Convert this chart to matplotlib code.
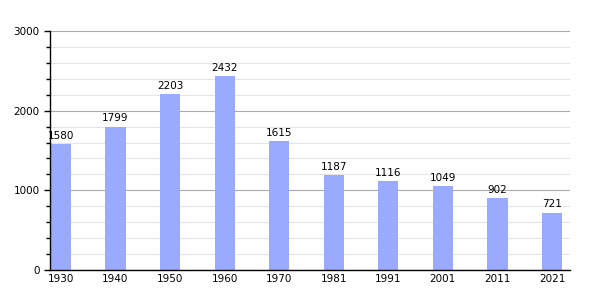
import matplotlib.pyplot as plt
from matplotlib.ticker import MultipleLocator
import numpy as np

years = ["1930", "1940", "1950", "1960", "1970", "1981", "1991", "2001", "2011", "2021"]
population = [1580, 1799, 2203, 2432, 1615, 1187, 1116, 1049, 902, 721]

fig = plt.figure(figsize=(6, 3), dpi=100)
ax = fig.add_axes([50 / 600, 30 / 300, 520 / 600, 239 / 300])

x = np.arange(len(years))
ax.bar(x, population, width=0.37, color="#99aaff", zorder=2)
for xi, v in zip(x, population):
    ax.text(xi, v + 40, str(v), ha="center", va="bottom", fontsize=7.5, zorder=3)

ax.set_xlim(-0.2, 9.33)
ax.set_ylim(0, 3000)
ax.set_xticks(x)
ax.set_xticklabels(years, fontsize=7.5)
ax.yaxis.set_major_locator(MultipleLocator(1000))
ax.yaxis.set_minor_locator(MultipleLocator(200))
ax.tick_params(axis="y", labelsize=7.5, length=4, width=1)
ax.tick_params(axis="y", which="minor", length=3, width=1)
ax.tick_params(axis="x", length=0, pad=3)
ax.grid(axis="y", which="major", color="#aaaaaa", lw=0.8, zorder=0)
ax.grid(axis="y", which="minor", color="#e4e4e4", lw=0.8, zorder=0)
ax.spines["top"].set_visible(False)
ax.spines["right"].set_visible(False)
ax.spines["left"].set_linewidth(1)
ax.spines["bottom"].set_linewidth(1)

fig.savefig("out.png", dpi=100)
